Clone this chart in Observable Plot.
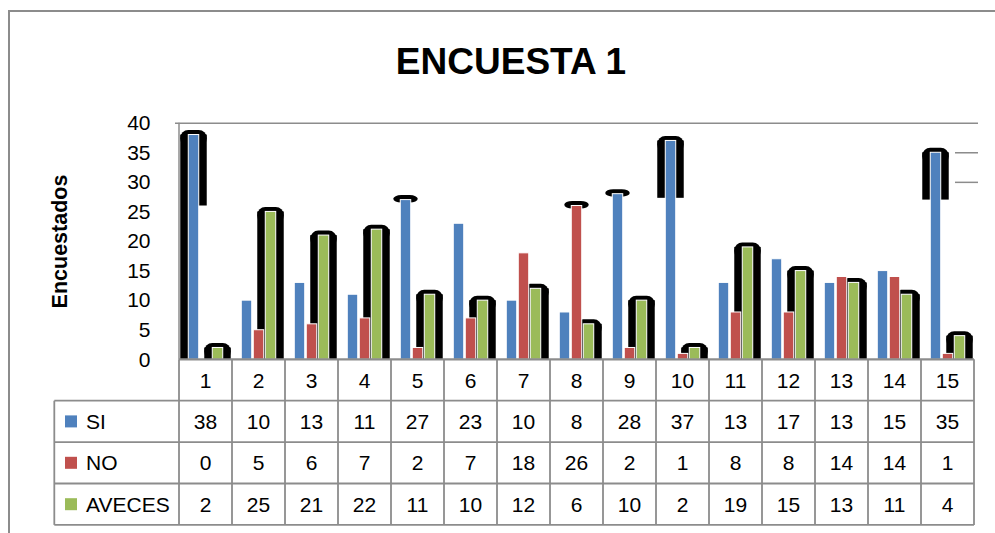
<!DOCTYPE html>
<html>
<head>
<meta charset="utf-8">
<script src="https://cdn.jsdelivr.net/npm/d3@7"></script>
<script src="https://cdn.jsdelivr.net/npm/@observablehq/plot@0.6"></script>
<style>
html, body { margin: 0; padding: 0; background: #fff; }
#chart { width: 995px; height: 533px; overflow: hidden; position: relative; }
</style>
</head>
<body>
<div id="chart"></div>
<script>
// ---------- data ----------
const categories = ["1","2","3","4","5","6","7","8","9","10","11","12","13","14","15"];
const seriesNames = ["SI", "NO", "AVECES"];
const SI     = [38, 10, 13, 11, 27, 23, 10,  8, 28, 37, 13, 17, 13, 15, 35];
const NO     = [ 0,  5,  6,  7,  2,  7, 18, 26,  2,  1,  8,  8, 14, 14,  1];
const AVECES = [ 2, 25, 21, 22, 11, 10, 12,  6, 10,  2, 19, 15, 13, 11,  4];
const yTicks = [0, 5, 10, 15, 20, 25, 30, 35, 40];
const titleText = "ENCUESTA 1";
const yLabel = "Encuestados";
// black rounded backdrops visible behind some bars: value where the backdrop ends (null = none)
const shadowLeftSI      = [ 0, null, null, null, 27, null, null, null, 28, 27.3, null, null, null, null, 27];
const shadowRightSI     = [26, null, null, null, 27, null, null, null, 28, 27.3, null, null, null, null, 27];
const shadowNO          = [null, null, null, null, null, null, null, 26, null, null, null, null, null, null, null];
const shadowAVECES      = [0, 0, 0, 0, 0, 0, 0, 0, 0, 0, 0, 0, 0, 0, 0];

const seriesValues = [SI, NO, AVECES];
const seriesShadowL = [shadowLeftSI, shadowNO, shadowAVECES];
const seriesShadowR = [shadowRightSI, shadowNO, shadowAVECES];
const colors = ["#4F81BD", "#C0504D", "#9BBB59"];

// ---------- layout ----------
const W = 995, H = 533;
const ML = 175, MR = 17, MT = 122.7, MB = H - 359.3;
const bw = (W - ML - MR) / categories.length;
const rectW = 11, step = 12;
const groupOff = (bw - (step * 2 + rectW)) / 2;
const gray = "#8c8c8c";
const font = "'Liberation Sans', Arial, sans-serif";

const shadowMarks = [];
const barMarks = [];
seriesNames.forEach((name, i) => {
  const off = groupOff + i * step;
  const rows = categories.map((c, j) => ({
    cat: c, series: name, value: seriesValues[i][j],
    left: seriesShadowL[i][j], right: seriesShadowR[i][j]
  }));
  const withShadow = rows.filter(d => d.left != null);
  const isCap = d => d.left >= d.value - 1.5 && d.right >= d.value - 1.5;
  const full = withShadow.filter(d => !isCap(d));
  const caps = withShadow.filter(isCap);
  shadowMarks.push(
    Plot.barY(full, {x: "cat", y1: "left", y2: "value", fill: "black",
      insetLeft: off - 8, insetRight: bw - off - 5.5}),
    Plot.barY(full, {x: "cat", y1: "right", y2: "value", fill: "black",
      insetLeft: off + 5.5, insetRight: bw - off - rectW - 8}),
    Plot.barY(full, {x: "cat", y1: "value", y2: "value", fill: "black",
      insetLeft: off - 8, insetRight: bw - off - rectW - 8,
      insetTop: -4.5, insetBottom: -12, rx: 8, clip: true}),
    Plot.barY(caps, {x: "cat", y1: "value", y2: "value", fill: "black",
      insetLeft: off - 7, insetRight: bw - off - rectW - 7,
      insetTop: -4.5, insetBottom: -3, rx: 8})
  );
  barMarks.push(
    Plot.barY(rows, {x: "cat", y: "value", fill: colors[i], stroke: "white", strokeWidth: 1,
      insetLeft: off, insetRight: bw - off - rectW})
  );
});

const chart = Plot.plot({
  width: W, height: H,
  marginLeft: ML, marginRight: MR, marginTop: MT, marginBottom: MB,
  style: {background: "white", fontFamily: font, fontSize: "21px", color: "black", overflow: "visible"},
  x: {domain: categories, padding: 0, axis: null},
  y: {domain: [0, 40], axis: null},
  marks: [
    Plot.ruleY([35, 30], {stroke: gray, strokeWidth: 1.5, insetLeft: 780}),
    Plot.ruleY([40], {stroke: gray, strokeWidth: 1.5}),
    ...shadowMarks,
    ...barMarks,
    Plot.axisY(yTicks, {tickSize: 0, tickPadding: 25, fontSize: 21, fill: "black", label: null}),
    Plot.text([yLabel], {text: d => d, frameAnchor: "left", dx: -115, rotate: -90,
      textAnchor: "middle", fontWeight: "bold", fontSize: 21.5, fill: "black"})
  ]
});

document.getElementById("chart").appendChild(chart);

// ---------- extras: outer border, title, plot-area left edge, data table ----------
const svg = d3.select(chart);
const sx = chart.scale("x"), sy = chart.scale("y");
const colW = sx.bandwidth;
const x0 = sx.apply(categories[0]);
const xEnd = sx.apply(categories[categories.length - 1]) + colW;
const yTop = sy.apply(0);
const rowH = 41.4;
const labelX0 = 54.3;

// outer chart border (top and left visible)
svg.append("path").attr("d", `M9,${H} V11 H${W}`).attr("fill", "none")
  .attr("stroke", gray).attr("stroke-width", 2);

// title
svg.append("text").attr("x", 511).attr("y", 74).attr("text-anchor", "middle")
  .attr("font-family", font).attr("font-weight", "bold").attr("font-size", 37)
  .attr("fill", "black").text(titleText);

// plot area left edge
svg.append("line").attr("x1", x0).attr("x2", x0).attr("y1", sy.apply(40)).attr("y2", yTop)
  .attr("stroke", gray).attr("stroke-width", 1.5);

const tg = svg.append("g").attr("stroke", gray).attr("stroke-width", 1.8).attr("fill", "none");
// axis / table top line
tg.append("line").attr("x1", x0).attr("x2", xEnd).attr("y1", yTop).attr("y2", yTop).attr("stroke-width", 2.2);
for (let k = 1; k <= 4; k++) {
  tg.append("line").attr("x1", labelX0).attr("x2", xEnd)
    .attr("y1", yTop + rowH * k).attr("y2", yTop + rowH * k);
}
for (let j = 0; j <= categories.length; j++) {
  const xx = x0 + colW * j;
  tg.append("line").attr("x1", xx).attr("x2", xx).attr("y1", yTop).attr("y2", yTop + rowH * 4);
}
tg.append("line").attr("x1", labelX0).attr("x2", labelX0).attr("y1", yTop + rowH).attr("y2", yTop + rowH * 4);

const txt = svg.append("g").attr("font-family", font).attr("font-size", 21).attr("fill", "black");
categories.forEach((c, j) => {
  txt.append("text").attr("x", sx.apply(c) + colW / 2).attr("y", yTop + rowH / 2)
    .attr("dy", "0.36em").attr("text-anchor", "middle").text(c);
  seriesValues.forEach((vals, i) => {
    txt.append("text").attr("x", sx.apply(c) + colW / 2).attr("y", yTop + rowH * (i + 1.5))
      .attr("dy", "0.36em").attr("text-anchor", "middle").text(vals[j]);
  });
});
seriesNames.forEach((name, i) => {
  const cy = yTop + rowH * (i + 1.5);
  svg.append("rect").attr("x", 65).attr("y", cy - 6).attr("width", 12).attr("height", 12)
    .attr("fill", colors[i]);
  txt.append("text").attr("x", 86).attr("y", cy).attr("dy", "0.36em")
    .attr("text-anchor", "start").text(name);
});
</script>
</body>
</html>
